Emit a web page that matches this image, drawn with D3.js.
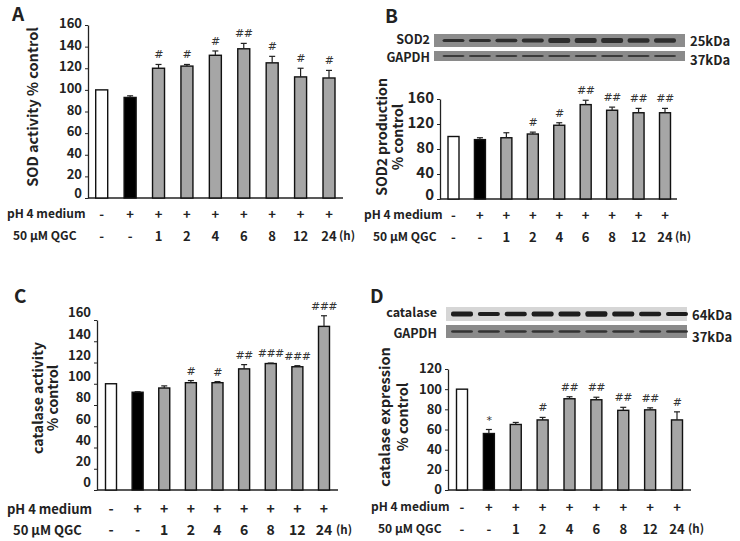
<!DOCTYPE html>
<head>
<meta charset="utf-8">
<title>SOD / catalase panels</title>
<script src="https://d3js.org/d3.v7.min.js"></script>
<style>
body { margin: 0; background: #fff; }
text { font-family: "Noto Sans CJK KR", "Noto Sans", sans-serif; font-weight: bold; fill: #222; }
.sig { font-family: "DejaVu Sans", sans-serif; font-weight: normal; font-size: 11px; fill: #333; letter-spacing: -0.5px; }
</style>
</head>
<body>
<div id="container"></div>
<script>
//----------------------------DATA------------------------------//
const groups = ["ctrl", "pH4", "1h", "2h", "4h", "6h", "8h", "12h", "24h"];
const phRow = ["-", "+", "+", "+", "+", "+", "+", "+", "+"];
const qgcRow = ["-", "-", "1", "2", "4", "6", "8", "12", "24"];
const barFills = ["#ffffff", "#000000", "#a6a6a6", "#a6a6a6", "#a6a6a6", "#a6a6a6", "#a6a6a6", "#a6a6a6", "#a6a6a6"];

// A: SOD activity % control
const sodActivity = [100, 93, 120, 122, 132, 138, 125, 112, 111];
const sodActivityErr = [0, 1.5, 3.5, 1.5, 4, 5, 6, 8, 7];
const sodActivitySig = ["", "", "#", "#", "#", "##", "#", "#", "#"];

// B: SOD2 production % control
const sod2Production = [100, 95, 98, 104, 118, 151, 142, 138, 138];
const sod2Err = [0, 3, 8, 3, 4, 7, 5, 7, 7];
const sod2Sig = ["", "", "", "#", "#", "##", "##", "##", "##"];

// C: catalase activity % control
const catalaseActivity = [100, 92, 96, 101, 101, 114, 119, 116, 154];
const catalaseActivityErr = [0, 0.5, 2, 2, 1, 4, 0.5, 1, 10];
const catalaseActivitySig = ["", "", "", "#", "#", "##", "###", "###", "###"];

// D: catalase expression % control
const catalaseExpr = [100, 56, 65, 69.5, 90.5, 89.5, 79, 79.5, 69.5];
const catalaseExprErr = [0, 4, 2, 2.5, 2, 2.5, 3, 2, 8];
const catalaseExprSig = ["", "*", "", "#", "##", "##", "##", "##", "#"];

// western blot band thickness per lane
const sod2Bands = [3, 3, 3.5, 4, 5, 5, 5, 4.5, 4.5];
const gapdhBandsB = [2, 2, 2, 2, 2, 2, 2, 2, 2];
const catalaseBands = [5, 4, 4.5, 5, 5, 5.5, 5, 4.5, 4];
const gapdhBandsD = [2.5, 2.5, 2.5, 2.5, 2.5, 2.5, 2.5, 2.5, 2.5];

//---------------------------SVG--------------------------------//
const width = 740;
const height = 541;
const svg = d3.select("div#container").append("svg")
    .attr("width", width)
    .attr("height", height);
svg.append("rect").attr("width", width).attr("height", height).attr("fill", "#fff");

//-------------------------PANELS-------------------------------//
const panels = [
  { letter: "A", lx: 12, ly: 21, values: sodActivity, errs: sodActivityErr, sigs: sodActivitySig,
    axisX: 88, xEnd: 343, y0: 198, yTop: 25, yMax: 160, yStep: 20, c0: 101.7, c1: 329, barW: 12,
    tickFont: 13, labelDy: "0.2em", zeroDy: "-0.05em",
    title: ["SOD activity % control"], titleX: [33], titleY: 107, titleFont: 14.5,
    rowY: [214, 236], rowX: [7, 13], rowFont: 12, hX: 347 },
  { letter: "B", lx: 385, ly: 23, values: sod2Production, errs: sod2Err, sigs: sod2Sig,
    axisX: 440, xEnd: 677, y0: 199, yTop: 99, yMax: 160, yStep: 40, c0: 453.5, c1: 665, barW: 11,
    tickFont: 15, labelDy: "0.25em", zeroDy: "0em",
    title: ["SOD2 production", "% control"], titleX: [382, 398], titleY: 137, titleFont: 14,
    rowY: [215, 237], rowX: [364, 373], rowFont: 12, hX: 683 },
  { letter: "C", lx: 14, ly: 303, values: catalaseActivity, errs: catalaseActivityErr, sigs: catalaseActivitySig,
    axisX: 97, xEnd: 338, y0: 490, yTop: 320, yMax: 160, yStep: 20, c0: 111, c1: 324, barW: 11,
    tickFont: 13, labelDy: "-0.25em", zeroDy: "-0.25em",
    title: ["catalase activity", "% control"], titleX: [38, 53], titleY: 398, titleFont: 14,
    rowY: [509, 530], rowX: [7, 13], rowFont: 13, hX: 344 },
  { letter: "D", lx: 370, ly: 303, values: catalaseExpr, errs: catalaseExprErr, sigs: catalaseExprSig,
    axisX: 448, xEnd: 691, y0: 490, yTop: 369, yMax: 120, yStep: 20, c0: 462, c1: 677, barW: 11,
    tickFont: 13, labelDy: "0.3em", zeroDy: "0.3em",
    title: ["catalase expression", "% control"], titleX: [385, 403], titleY: 417, titleFont: 14.5,
    rowY: [507, 529], rowX: [371, 378], rowFont: 12, hX: 696 }
];

panels.forEach(function(p) {
  const g = svg.append("g");
  const x = d3.scalePoint().domain(groups).range([p.c0, p.c1]);
  const y = d3.scaleLinear().domain([0, p.yMax]).range([p.y0, p.yTop]);
  p.x = x;
  const rowsData = p.values.map(function(v, i) {
    return { key: groups[i], v: v, e: p.errs[i], s: p.sigs[i], fill: barFills[i] };
  });

  // panel letter
  g.append("text").attr("x", p.lx).attr("y", p.ly)
      .style("font-size", "19px").text(p.letter);

  // y axis
  const yaxis = d3.axisLeft(y)
      .tickValues(d3.range(0, p.yMax + 1, p.yStep))
      .tickSize(3)
      .tickSizeOuter(0);
  g.append("g")
      .attr("transform", "translate(" + p.axisX + ",0)")
      .call(yaxis)
      .call(function(a) {
        a.select(".domain").attr("stroke", "#222").attr("stroke-width", 1.3);
        a.selectAll(".tick line").attr("stroke", "#222");
        a.selectAll("text")
            .attr("dy", function(d) { return d === 0 ? p.zeroDy : p.labelDy; })
            .attr("x", -6)
            .style("font-size", p.tickFont + "px");
      });

  // x axis baseline
  g.append("line")
      .attr("x1", p.axisX).attr("x2", p.xEnd)
      .attr("y1", y(0)).attr("y2", y(0))
      .attr("stroke", "#222").attr("stroke-width", 1.5);

  // bars
  g.selectAll("rect.bar").data(rowsData).enter().append("rect")
      .attr("class", "bar")
      .attr("x", function(d) { return x(d.key) - p.barW / 2; })
      .attr("y", function(d) { return y(d.v); })
      .attr("width", p.barW)
      .attr("height", function(d) { return y(0) - y(d.v); })
      .attr("fill", function(d) { return d.fill; })
      .attr("stroke", "#111").attr("stroke-width", 1.4);

  // error bars (upper only)
  const eb = g.selectAll("g.err").data(rowsData.filter(function(d) { return d.e > 0; }))
      .enter().append("g").attr("class", "err");
  eb.append("line")
      .attr("x1", function(d) { return x(d.key); })
      .attr("x2", function(d) { return x(d.key); })
      .attr("y1", function(d) { return y(d.v); })
      .attr("y2", function(d) { return y(d.v + d.e); })
      .attr("stroke", "#222").attr("stroke-width", 1.2);
  eb.append("line")
      .attr("x1", function(d) { return x(d.key) - 3; })
      .attr("x2", function(d) { return x(d.key) + 3; })
      .attr("y1", function(d) { return y(d.v + d.e); })
      .attr("y2", function(d) { return y(d.v + d.e); })
      .attr("stroke", "#222").attr("stroke-width", 1.2);

  // significance marks
  g.selectAll("text.sig").data(rowsData).enter().append("text")
      .attr("class", "sig")
      .attr("text-anchor", "middle")
      .attr("x", function(d) { return x(d.key); })
      .attr("y", function(d) { return y(d.v + d.e) - 6; })
      .text(function(d) { return d.s; });

  // y title
  p.title.forEach(function(t, k) {
    g.append("text")
        .attr("transform", "translate(" + p.titleX[k] + "," + p.titleY + ") rotate(-90)")
        .attr("text-anchor", "middle")
        .attr("dy", "0.35em")
        .style("font-size", p.titleFont + "px")
        .text(t);
  });

  // treatment rows
  const rows = [["pH 4 medium", phRow], ["50 \u00b5M QGC", qgcRow]];
  rows.forEach(function(r, k) {
    g.append("text").attr("x", p.rowX[k]).attr("y", p.rowY[k]).attr("dy", "0.35em")
        .style("font-size", p.rowFont + "px").text(r[0]);
    g.selectAll("text.row" + k).data(r[1]).enter().append("text")
        .attr("class", "row" + k)
        .attr("text-anchor", "middle")
        .attr("x", function(d, i) { return x(groups[i]); })
        .attr("y", p.rowY[k]).attr("dy", "0.35em")
        .style("font-size", (p.rowFont + 1) + "px")
        .text(function(d) { return d; });
  });
  g.append("text").attr("x", p.hX).attr("y", p.rowY[1]).attr("dy", "0.35em")
      .attr("text-anchor", "middle")
      .style("font-size", "11.5px").text("(h)");
});

//--------------------------BLOTS-------------------------------//
const blots = [
  { panel: 1, name: "SOD2", kda: "25kDa", x0: 434, x1: 685, y0: 34, y1: 47, bg: "#8c8c8c", band: "#2e2e2e", bands: sod2Bands, nameX: 430, nameY: 40, kdaY: 41 },
  { panel: 1, name: "GAPDH", kda: "37kDa", x0: 434, x1: 685, y0: 51, y1: 61, bg: "#8a8a8a", band: "#3a3a3a", bands: gapdhBandsB, nameX: 430, nameY: 58, kdaY: 60 },
  { panel: 3, name: "catalase", kda: "64kDa", x0: 446, x1: 687, y0: 307, y1: 321, bg: "#d6d6d6", band: "#1e1e1e", bands: catalaseBands, nameX: 437, nameY: 313, kdaY: 315 },
  { panel: 3, name: "GAPDH", kda: "37kDa", x0: 446, x1: 687, y0: 325, y1: 338, bg: "#8a8a8a", band: "#333333", bands: gapdhBandsD, nameX: 437, nameY: 334, kdaY: 337 }
];

blots.forEach(function(b) {
  const x = panels[b.panel].x;
  const g = svg.append("g");
  g.append("rect")
      .attr("x", b.x0).attr("y", b.y0)
      .attr("width", b.x1 - b.x0).attr("height", b.y1 - b.y0)
      .attr("fill", b.bg);
  const mid = (b.y0 + b.y1) / 2;
  g.selectAll("rect.band").data(b.bands).enter().append("rect")
      .attr("class", "band")
      .attr("x", function(d, i) { return x(groups[i]) - 11; })
      .attr("y", function(d) { return mid - d / 2; })
      .attr("width", 22)
      .attr("height", function(d) { return d; })
      .attr("rx", 2)
      .attr("fill", b.band);
  g.append("text").attr("x", b.nameX).attr("y", b.nameY).attr("dy", "0.35em")
      .attr("text-anchor", "end").style("font-size", "12.5px").text(b.name);
  g.append("text").attr("x", b.x1 + 5).attr("y", b.kdaY).attr("dy", "0.35em")
      .style("font-size", "13px").text(b.kda);
});
</script>
</body>
